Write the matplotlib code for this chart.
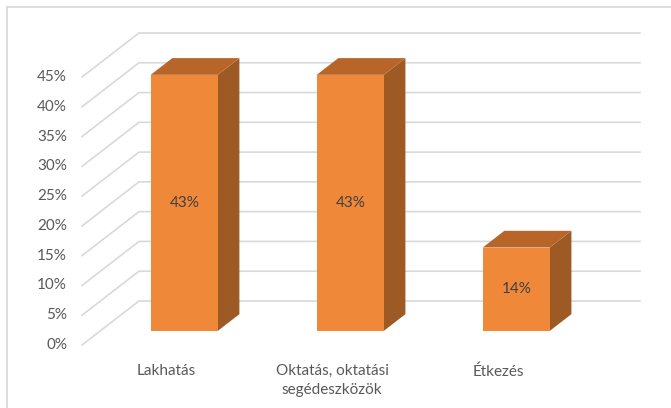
import numpy as np
import matplotlib.pyplot as plt
from matplotlib.patches import Polygon

categories = ['Lakhatás', 'Oktatás, oktatási\nsegédeszközök', 'Étkezés']
values = [43, 43, 14]
ticks = [0, 5, 10, 15, 20, 25, 30, 35, 40, 45]

plt.rcParams['font.family'] = ['Lato', 'DejaVu Sans']

front_col = '#F0883A'
top_col = '#B8652A'
side_col = '#9E5A25'
grid_col = '#D9D9D9'
txt_col = '#595959'

# fake 3D: depth shift in data units (x in categories, y in percent)
ddx = 0.343
ddy = 7.39
d0, d1 = 0.32, 0.70
bw = 0.404
x_left, x_right = -0.506, 2.512

fig = plt.figure(figsize=(6.71, 4.08), dpi=100)
ax = fig.add_axes([0, 0, 1, 1])
ax.set_xlim(-1.0, 3.042)
ax.set_ylim(-10.58, 57.93)
ax.axis('off')

def proj(x, y, d):
    return (x + d * ddx, y + d * ddy)

# gridlines: diagonal floor edge + back wall line
for t in ticks:
    p0 = proj(x_left, t, 0)
    p1 = proj(x_left, t, 1)
    p2 = proj(x_right, t, 1)
    ax.plot([p0[0], p1[0], p2[0]], [p0[1], p1[1], p2[1]], color=grid_col, lw=1.2,
            solid_joinstyle='miter', zorder=1)
    ax.text(x_left - 0.09, t, f'{t}%', ha='right', va='center', fontsize=11, color=txt_col)

for i, v in enumerate(values):
    xl, xr = i - bw / 2, i + bw / 2
    front = [proj(xl, 0, d0), proj(xr, 0, d0), proj(xr, v, d0), proj(xl, v, d0)]
    top = [proj(xl, v, d0), proj(xr, v, d0), proj(xr, v, d1), proj(xl, v, d1)]
    side = [proj(xr, 0, d0), proj(xr, 0, d1), proj(xr, v, d1), proj(xr, v, d0)]
    ax.add_patch(Polygon(side, closed=True, facecolor=side_col, edgecolor='none', zorder=2))
    ax.add_patch(Polygon(top, closed=True, facecolor=top_col, edgecolor='none', zorder=2))
    ax.add_patch(Polygon(front, closed=True, facecolor=front_col, edgecolor='none', zorder=3))
    cx, cy = proj(i, v / 2, d0)
    ax.text(cx, cy, f'{v}%', ha='center', va='center', fontsize=11, color='#404040', zorder=4)
    ax.text(i, -3.2, categories[i], ha='center', va='top', fontsize=11, color=txt_col,
            linespacing=1.45)

# chart area border (only top/left visible in the crop)
fig.add_artist(plt.Line2D([0.0104, 0.0104], [0, 0.983], color='#D9D9D9', lw=1.2,
                          transform=fig.transFigure))
fig.add_artist(plt.Line2D([0.0104, 1], [0.983, 0.983], color='#D9D9D9', lw=1.2,
                          transform=fig.transFigure))

fig.savefig('out.png', dpi=100)
